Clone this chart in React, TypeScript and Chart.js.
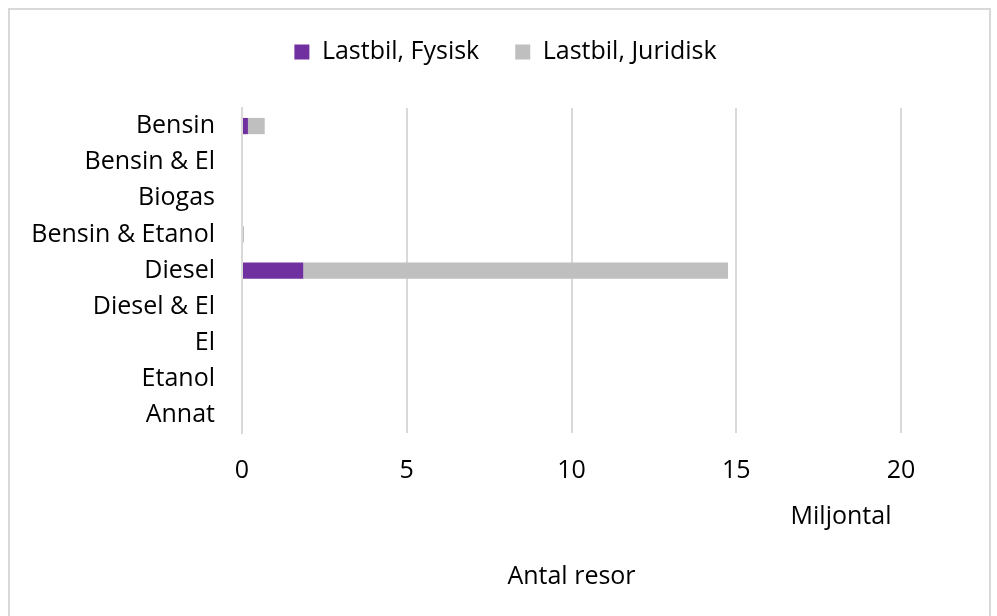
import React, { useEffect, useRef } from "react";
import { Chart, registerables } from "chart.js";

Chart.register(...registerables);

const categories = [
  "Bensin",
  "Bensin & El",
  "Biogas",
  "Bensin & Etanol",
  "Diesel",
  "Diesel & El",
  "El",
  "Etanol",
  "Annat",
];
const seriesNames = ["Lastbil, Fysisk", "Lastbil, Juridisk"];
const fysisk = [0.18, 0, 0, 0, 1.86, 0, 0, 0, 0];
const juridisk = [0.51, 0, 0, 0.06, 12.89, 0, 0, 0, 0];
const xTicks = [0, 5, 10, 15, 20];
const unitLabel = "Miljontal";
const axisTitle = "Antal resor";

const FONT = "'Open Sans', sans-serif";
const TEXT = "#000000";

export default function App() {
  const ref = useRef<HTMLCanvasElement | null>(null);

  useEffect(() => {
    if (!ref.current) return;
    const framePlugin = {
      id: "frame",
      beforeInit(chart: any) {
        const lg = chart.legend;
        if (lg) {
          const orig = lg.fit.bind(lg);
          lg.fit = function () {
            orig();
            this.height += 33.5;
          };
        }
      },
      afterLayout(chart: any) {
        const lg = chart.legend;
        if (lg) {
          lg.left += 45;
          lg.right += 45;
        }
      },
      afterDraw(chart: any) {
        const ctx = chart.ctx;
        ctx.save();
        ctx.strokeStyle = "#d9d9d9";
        ctx.lineWidth = 2;
        ctx.strokeRect(9, 9, 981, 620);
        const xs = chart.scales.x;
        ctx.fillStyle = TEXT;
        ctx.font = `25px ${FONT}`;
        ctx.textAlign = "center";
        ctx.textBaseline = "middle";
        ctx.fillText(unitLabel, xs.right - 60, 517);
        ctx.restore();
      },
    };

    const chart = new Chart(ref.current, {
      type: "bar",
      data: {
        labels: categories,
        datasets: [
          {
            label: seriesNames[0],
            data: fysisk,
            backgroundColor: "#7030A0",
            borderWidth: 0,
            barPercentage: 0.45,
            categoryPercentage: 1,
          },
          {
            label: seriesNames[1],
            data: juridisk,
            backgroundColor: "#BFBFBF",
            borderWidth: 0,
            barPercentage: 0.45,
            categoryPercentage: 1,
          },
        ],
      },
      options: {
        indexAxis: "y",
        responsive: false,
        animation: false,
        devicePixelRatio: 1,
        layout: { padding: { left: 20, right: 96, top: 3.5, bottom: 24 } },
        plugins: {
          legend: {
            position: "top",
            align: "center",
            labels: {
              font: { family: FONT, size: 25 },
              color: TEXT,
              boxWidth: 15,
              boxHeight: 15,
              padding: 36,
            },
          },
          tooltip: { enabled: false },
        },
        scales: {
          x: {
            stacked: true,
            min: 0,
            max: 20,
            afterBuildTicks(scale: any) {
              scale.ticks = xTicks.map((v) => ({ value: v }));
            },
            ticks: {
              font: { family: FONT, size: 25 },
              color: TEXT,
              padding: 23,
              maxRotation: 0,
            },
            grid: { color: "#d9d9d9", lineWidth: 2, drawTicks: false },
            border: { display: false },
            title: {
              display: true,
              text: axisTitle,
              font: { family: FONT, size: 25 },
              color: TEXT,
              padding: { top: 53, bottom: 0 },
            },
          },
          y: {
            stacked: true,
            afterFit(scale: any) {
              scale.width = 222;
            },
            ticks: {
              font: { family: FONT, size: 25 },
              color: TEXT,
              padding: 27,
            },
            grid: { display: false, drawTicks: false },
            border: { display: true, color: "#d9d9d9", width: 2 },
          },
        },
      },
      plugins: [framePlugin],
    } as any);
    return () => chart.destroy();
  }, []);

  return (
    <div style={{ position: "fixed", left: 0, top: 0, width: 997, height: 616, background: "#fff" }}>
      <canvas ref={ref} width={997} height={616} />
    </div>
  );
}
